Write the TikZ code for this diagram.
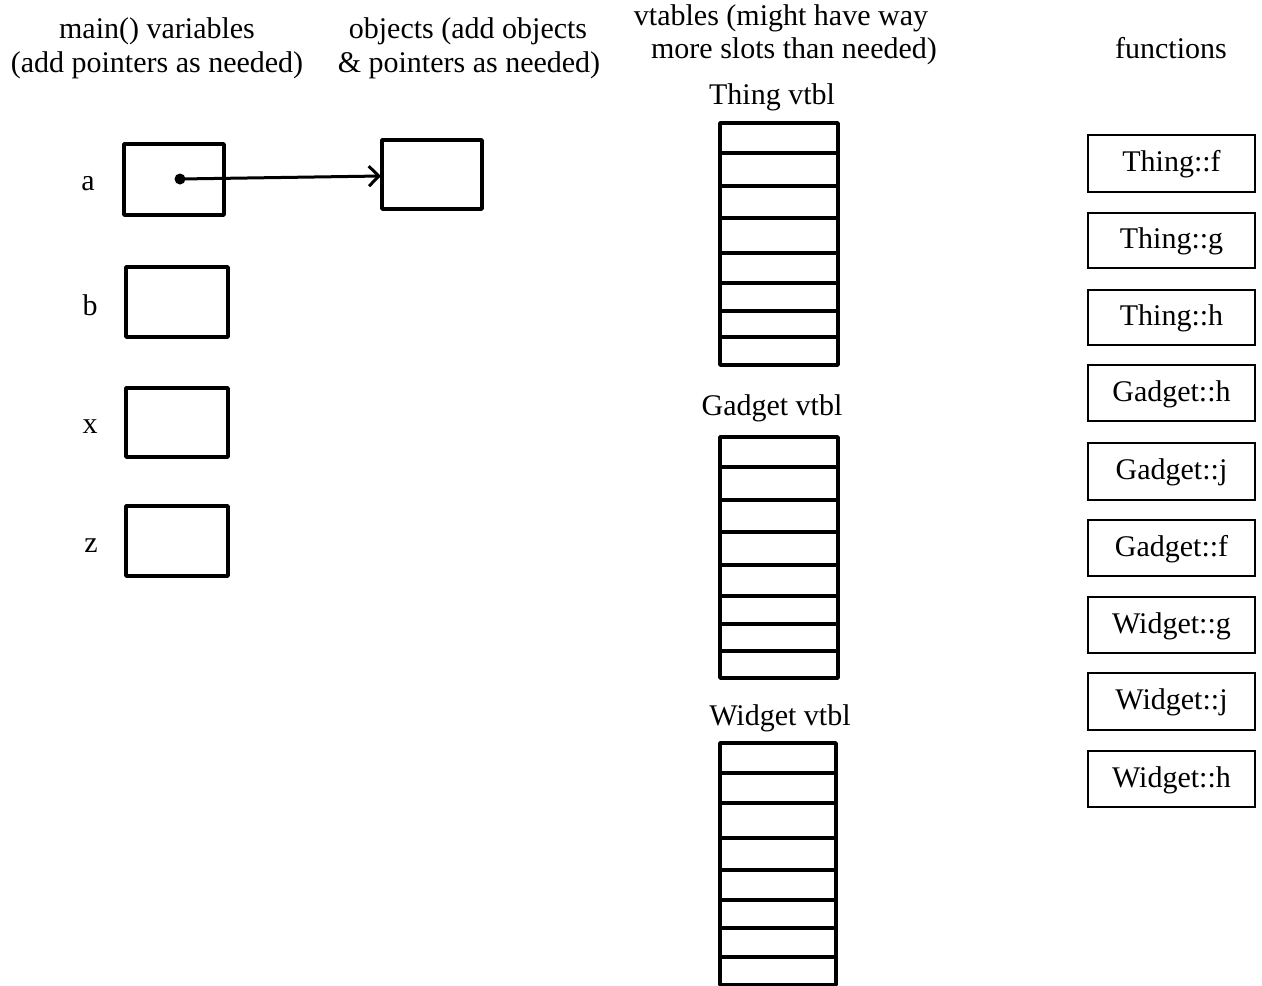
\documentclass[tikz,border=0pt]{standalone}
\usepackage{fontspec}
\setmainfont{Liberation Serif}
\usetikzlibrary{arrows.meta}
\begin{document}
\begin{tikzpicture}[x=1pt,y=-1pt,
  txt/.style={font=\fontsize{30}{35}\selectfont, inner sep=0pt, anchor=base},
  box/.style={draw, line width=3.6pt, line join=round},
  fbox/.style={draw, line width=2pt},
  row/.style={line width=3.6pt},
  flbl/.style={font=\fontsize{30}{35}\selectfont, inner sep=0pt}]
\useasboundingbox (0,0) rectangle (1262,986);
% headers
\node[txt] (h1a) at (157,38) {main() variables};
\node[txt] (h1b) at (157,72) {(add pointers as needed)};
\node[txt] (h2a) at (468,38) {objects (add objects};
\node[txt] (h2b) at (469,72) {\& pointers as needed)};
\node[txt] (h3a) at (781,25) {vtables (might have way};
\node[txt] (h3b) at (794,58) {more slots than needed)};
\node[txt] (h4) at (1171,58) {functions};
% variables
\node[txt] (la) at (88,190) {a};
\node[txt] (lb) at (90,315) {b};
\node[txt] (lx) at (90,433) {x};
\node[txt] (lz) at (91,552) {z};
\draw[box] (124,144) rectangle (224,215);
\draw[box] (126,267) rectangle (228,337);
\draw[box] (126,388) rectangle (228,457);
\draw[box] (126,506) rectangle (228,576);
\draw[box] (382,140) rectangle (482,209);
\coordinate (dot) at (180,179);
\coordinate (obj) at (381,176);
\fill (dot) circle (5.5);
\draw[line width=3pt, -{Straight Barb[length=10pt,width=20pt,line width=3pt]}] (dot) -- (obj);
% vtables
\node[txt] (tv) at (772,104) {Thing vtbl};
\node[txt] (gv) at (772,415) {Gadget vtbl};
\node[txt] (wv) at (780,725) {Widget vtbl};
\draw[box] (720,123) rectangle (838,365);
\foreach \y in {153,186,218,253,283,311,337} \draw[row] (720,\y) -- (838,\y);
\draw[box] (720,437) rectangle (838,678);
\foreach \y in {467,500,532,565,596,624,651} \draw[row] (720,\y) -- (838,\y);
\draw[box] (720,743) rectangle (836,985);
\foreach \y in {773,803,838,870,900,928,957} \draw[row] (720,\y) -- (836,\y);
% functions
\foreach \n/\t/\b/\txt in {f1/135/192/Thing::f, f2/213/268/Thing::g, f3/290/345/Thing::h, f4/365/421/Gadget::h, f5/443/500/Gadget::j, f6/520/576/Gadget::f, f7/597/653/Widget::g, f8/673/730/Widget::j, f9/751/807/Widget::h} {
  \draw[fbox] (1088,\t) rectangle (1255,\b);
  \node[flbl] (\n) at (1171.5,{(\t+\b)/2+1}) {\txt};
}
\end{tikzpicture}
\end{document}
